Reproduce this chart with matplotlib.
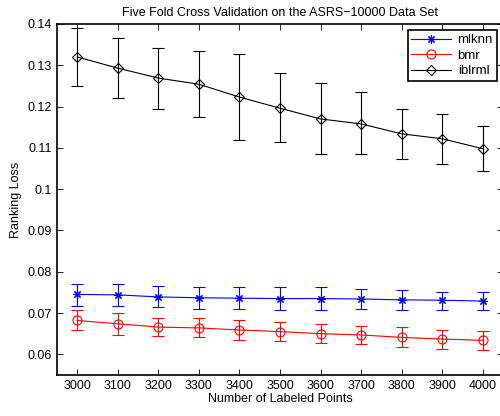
import numpy as np
import matplotlib
matplotlib.use("Agg")
import matplotlib.pyplot as plt
from matplotlib.lines import Line2D

plt.rcParams['font.family'] = ['Liberation Sans', 'DejaVu Sans']

points = [3000, 3100, 3200, 3300, 3400, 3500, 3600, 3700, 3800, 3900, 4000]

mlknn = [0.0745, 0.0744, 0.0739, 0.0737, 0.0736, 0.0735, 0.0735, 0.0734, 0.0732, 0.0731, 0.0729]
mlknn_lo = [0.0718, 0.0717, 0.0714, 0.0710, 0.0710, 0.0708, 0.0708, 0.0709, 0.0708, 0.0708, 0.0707]
mlknn_hi = [0.0771, 0.0770, 0.0765, 0.0763, 0.0762, 0.0762, 0.0762, 0.0757, 0.0755, 0.0752, 0.0750]

bmr = [0.0682, 0.0674, 0.0666, 0.0664, 0.0659, 0.0655, 0.0650, 0.0647, 0.0641, 0.0637, 0.0634]
bmr_lo = [0.0658, 0.0648, 0.0645, 0.0641, 0.0635, 0.0632, 0.0628, 0.0624, 0.0617, 0.0614, 0.0611]
bmr_hi = [0.0707, 0.0700, 0.0689, 0.0687, 0.0683, 0.0679, 0.0673, 0.0669, 0.0666, 0.0660, 0.0657]

iblrml = [0.1320, 0.1293, 0.1269, 0.1254, 0.1223, 0.1196, 0.1170, 0.1158, 0.1134, 0.1122, 0.1098]
iblrml_lo = [0.1249, 0.1220, 0.1195, 0.1174, 0.1120, 0.1115, 0.1086, 0.1084, 0.1074, 0.1062, 0.1043]
iblrml_hi = [0.1390, 0.1365, 0.1343, 0.1335, 0.1327, 0.1281, 0.1256, 0.1235, 0.1195, 0.1181, 0.1154]

asterisk = (8, 2, 0)
series = [
    ("mlknn", mlknn, mlknn_lo, mlknn_hi, "b", asterisk, 6),
    ("bmr", bmr, bmr_lo, bmr_hi, "r", "o", 6.5),
    ("iblrml", iblrml, iblrml_lo, iblrml_hi, "k", "D", 5),
]

fig = plt.figure(figsize=(5.0, 4.16), dpi=100)
ax = fig.add_axes([0.114, 0.0986, 0.892, 0.8438])

handles = []
for name, m, lo, hi, c, mk, ms in series:
    m = np.array(m)
    err = [m - np.array(lo), np.array(hi) - m]
    ax.errorbar(points, m, yerr=err, color=c, marker=mk, markersize=ms,
                markerfacecolor="none", markeredgecolor=c, markeredgewidth=0.8,
                linewidth=0.8, elinewidth=0.8, capsize=4, capthick=0.8)
    handles.append(Line2D([], [], color=c, marker=mk, markersize=ms,
                          markerfacecolor="none", markeredgecolor=c,
                          markeredgewidth=0.8, linewidth=0.8, label=name))

ax.set_xlim(2950, 4050)
ax.set_ylim(0.055, 0.14)
ax.set_xticks(points)
ax.set_yticks([0.06, 0.07, 0.08, 0.09, 0.1, 0.11, 0.12, 0.13, 0.14])
ax.set_yticklabels(["0.06", "0.07", "0.08", "0.09", "0.1", "0.11", "0.12", "0.13", "0.14"])
ax.tick_params(direction="in", top=True, right=True, labelsize=9, length=4, width=0.6)
for s in ax.spines.values():
    s.set_linewidth(1.2)

ax.set_xlabel("Number of Labeled Points", fontsize=9, labelpad=1)
ax.set_ylabel("Ranking Loss", fontsize=9)
ax.set_title("Five Fold Cross Validation on the ASRS\u221210000 Data Set", fontsize=9, pad=6)

leg = ax.legend(handles=handles, loc="upper right", fontsize=9.5, fancybox=False,
                framealpha=1, borderpad=0.3, handlelength=3.0, labelspacing=0.25,
                handletextpad=0.5, borderaxespad=0, bbox_to_anchor=(0.9865, 0.983))
leg.get_frame().set_edgecolor("black")
leg.get_frame().set_linewidth(1.2)

fig.savefig("out.png", dpi=100)
